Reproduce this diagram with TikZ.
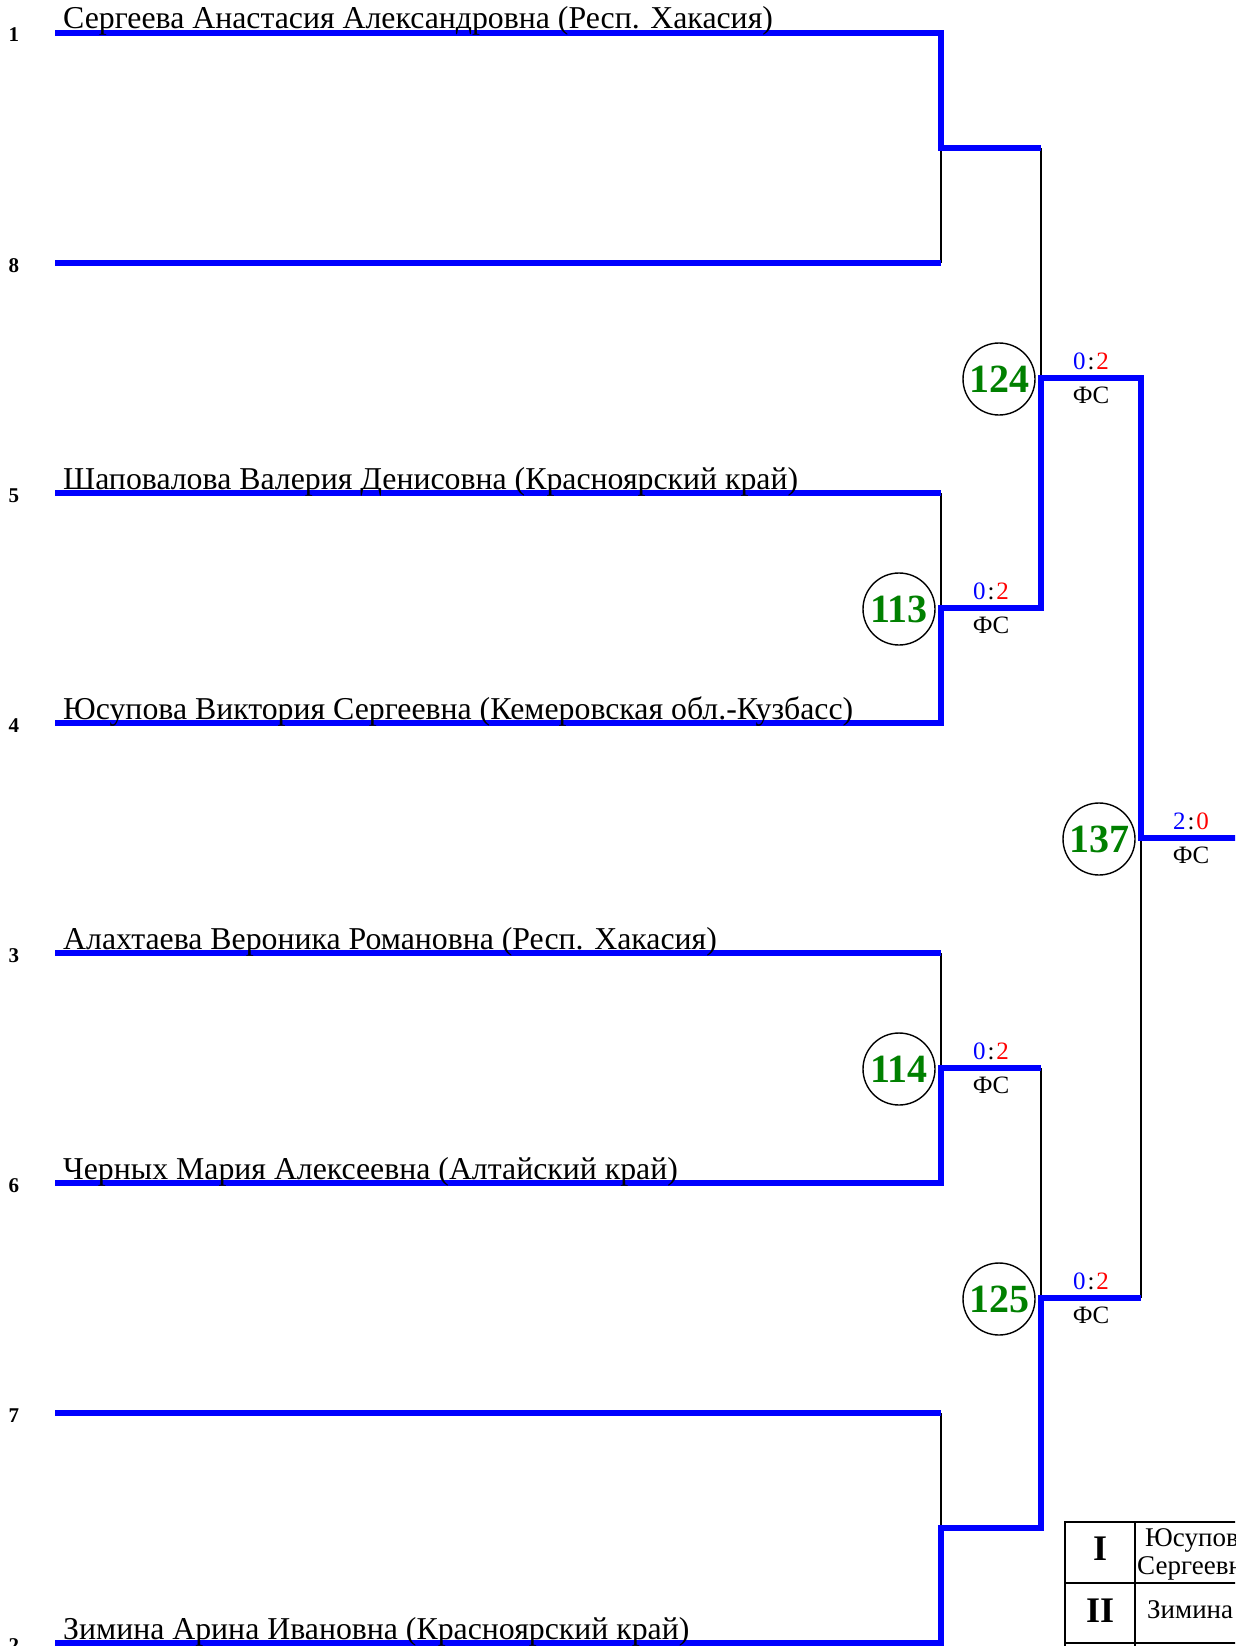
\documentclass[tikz,border=0pt]{standalone}
\usepackage{fontspec}
\setmainfont{Liberation Serif}
\definecolor{wblue}{RGB}{0,0,255}
\definecolor{wred}{RGB}{255,0,0}
\definecolor{wgreen}{RGB}{0,128,0}
\tikzset{
  winline/.style={draw=wblue, line width=5.5pt, line join=miter},
  loseline/.style={draw=black, line width=1.6pt},
  seednum/.style={anchor=base, font=\fontsize{21}{24}\selectfont\bfseries, inner sep=0pt},
  pname/.style={anchor=base west, font=\fontsize{31.8}{34}\selectfont, inner sep=0pt},
  matchno/.style={circle, draw=black, line width=1.4pt, minimum size=72pt, inner sep=0pt,
    text=wgreen, font=\fontsize{40}{40}\selectfont\bfseries},
  score/.style={anchor=base, font=\fontsize{25}{28}\selectfont, inner sep=0pt},
  tabline/.style={draw=black, line width=2pt},
  tabnum/.style={anchor=base, font=\fontsize{36}{40}\selectfont\bfseries, inner sep=0pt},
  tabtext/.style={anchor=base west, font=\fontsize{27}{28}\selectfont, inner sep=0pt}
}
\newcommand{\mscore}[2]{{\color{wblue}#1}\kern2pt:\kern2pt{\color{wred}#2}}
\begin{document}
\begin{tikzpicture}[x=1pt, y=-1pt]
\useasboundingbox (0,0) rectangle (1235,1646);
\begin{scope}
\clip (0,0) rectangle (1235,1646);
% slot coordinates
\coordinate (s1) at (55,33);   \coordinate (e1) at (941,33);
\coordinate (s8) at (55,263);  \coordinate (e8) at (941,263);
\coordinate (s5) at (55,493);  \coordinate (e5) at (941,493);
\coordinate (s4) at (55,723);  \coordinate (e4) at (941,723);
\coordinate (s3) at (55,953);  \coordinate (e3) at (941,953);
\coordinate (s6) at (55,1183); \coordinate (e6) at (941,1183);
\coordinate (s7) at (55,1413); \coordinate (e7) at (941,1413);
\coordinate (s2) at (55,1643); \coordinate (e2) at (941,1643);
% round 1 merge points
\coordinate (a1) at (941,148);  \coordinate (b1) at (1041,148);
\coordinate (a2) at (941,608);  \coordinate (b2) at (1041,608);
\coordinate (a3) at (941,1068); \coordinate (b3) at (1041,1068);
\coordinate (a4) at (941,1528); \coordinate (b4) at (1041,1528);
% round 2 merge points
\coordinate (c1) at (1041,378);  \coordinate (d1) at (1141,378);
\coordinate (c2) at (1041,1298); \coordinate (d2) at (1141,1298);
% final
\coordinate (f1) at (1141,838); \coordinate (g1) at (1240,838);

% thin (losing) connectors
\draw[loseline] (e8) -- (a1);
\draw[loseline] (e5) -- (a2);
\draw[loseline] (e3) -- (a3);
\draw[loseline] (e7) -- (a4);
\draw[loseline] (b1) -- (c1);
\draw[loseline] (b3) -- (c2);
\draw[loseline] (d2) -- (f1);

% player lines
\draw[winline] (s1) -- (e1) -- (a1) -- (b1);
\draw[winline] (s8) -- (e8);
\draw[winline] (s5) -- (e5);
\draw[winline] (s4) -- (e4) -- (a2) -- (b2) -- (c1) -- (d1) -- (f1) -- (g1);
\draw[winline] (s3) -- (e3);
\draw[winline] (s6) -- (e6) -- (a3) -- (b3);
\draw[winline] (s7) -- (e7);
\draw[winline] (s2) -- (e2) -- (a4) -- (b4) -- (c2) -- (d2);

% seed numbers
\node[seednum] (n1) at (14,42)   {1};
\node[seednum] (n8) at (14,272)  {8};
\node[seednum] (n5) at (14,502)  {5};
\node[seednum] (n4) at (14,732)  {4};
\node[seednum] (n3) at (14,962)  {3};
\node[seednum] (n6) at (14,1192) {6};
\node[seednum] (n7) at (14,1422) {7};
\node[seednum] (n2) at (14,1652) {2};

% names
\node[pname] (t1) at (63,29)   {Сергеева Анастасия Александровна (Респ. Хакасия)};
\node[pname] (t5) at (63,489)  {Шаповалова Валерия Денисовна (Красноярский край)};
\node[pname] (t4) at (63,719)  {Юсупова Виктория Сергеевна (Кемеровская обл.-Кузбасс)};
\node[pname] (t3) at (63,949)  {Алахтаева Вероника Романовна (Респ. Хакасия)};
\node[pname] (t6) at (63,1179) {Черных Мария Алексеевна (Алтайский край)};
\node[pname] (t2) at (63,1639) {Зимина Арина Ивановна (Красноярский край)};

% match circles
\node[matchno] (m113) at (899,609)  {113};
\node[matchno] (m114) at (899,1069) {114};
\node[matchno] (m124) at (999,379)  {124};
\node[matchno] (m125) at (999,1299) {125};
\node[matchno] (m137) at (1099,839) {137};

% scores
\node[score] (r113) at (991,599)   {\mscore{0}{2}};
\node[score] (f113) at (991,633)   {ФС};
\node[score] (r114) at (991,1059)  {\mscore{0}{2}};
\node[score] (f114) at (991,1093)  {ФС};
\node[score] (r124) at (1091,369)  {\mscore{0}{2}};
\node[score] (f124) at (1091,403)  {ФС};
\node[score] (r125) at (1091,1289) {\mscore{0}{2}};
\node[score] (f125) at (1091,1323) {ФС};
\node[score] (r137) at (1191,829)  {\mscore{2}{0}};
\node[score] (f137) at (1191,863)  {ФС};

% result table
\draw[tabline] (1065,1522) -- (1245,1522);
\draw[tabline] (1065,1583) -- (1245,1583);
\draw[tabline] (1065,1643) -- (1245,1643);
\draw[tabline] (1065,1521) -- (1065,1650);
\draw[tabline] (1135,1521) -- (1135,1650);
\node[tabnum] (pI) at (1100,1560) {I};
\node[tabnum] (pII) at (1100,1622) {II};
\node[tabtext] (w1a) at (1145,1546) {Юсупова Виктория};
\node[tabtext] (w1b) at (1137,1574) {Сергеевна (Кемеровская обл.-Кузбасс)};
\node[tabtext] (w2) at (1147,1618) {Зимина Арина Ивановна (Красноярский край)};
\end{scope}
\end{tikzpicture}
\end{document}
